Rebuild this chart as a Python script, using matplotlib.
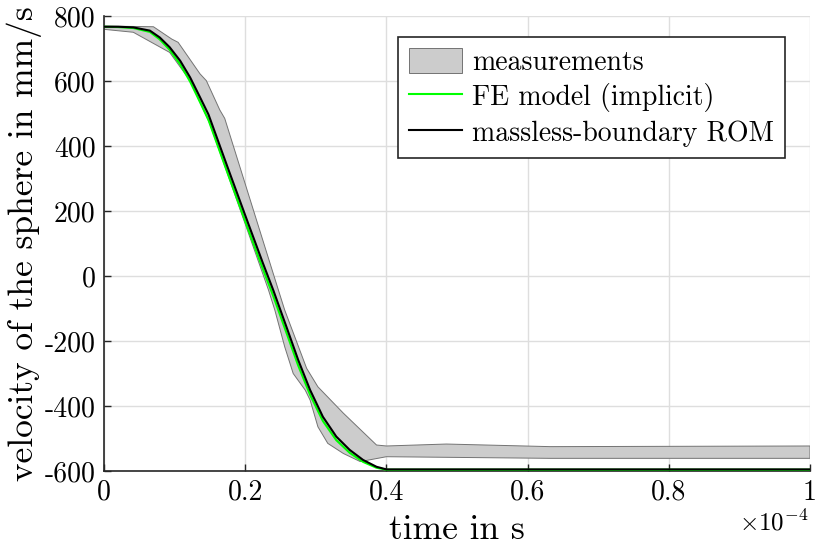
import numpy as np
import matplotlib.pyplot as plt

plt.rcParams['font.family'] = 'cmr10'
plt.rcParams['mathtext.fontset'] = 'cm'
plt.rcParams['axes.unicode_minus'] = False

# cas v jednotkach 1e-4 s, rychlost v mm/s
# mereni - horni a dolni obalka
t_meas_hi = [0, 0.070, 0.096, 0.105, 0.136, 0.145, 0.164, 0.171, 0.247, 0.256, 0.287, 0.303,
             0.339, 0.386, 0.40, 0.485, 0.632, 1.0]
v_meas_hi = [769, 767, 729, 719, 622, 601, 511, 485, -43, -105, -284, -341,
             -422, -520, -523, -517, -525, -523]
t_meas_lo = [0, 0.0415, 0.093, 0.122, 0.141, 0.150, 0.233, 0.242, 0.256, 0.268, 0.285, 0.292,
             0.303, 0.317, 0.339, 0.363, 0.40, 0.632, 1.0]
v_meas_lo = [759, 750, 688, 601, 511, 468, -43, -105, -218, -300, -351, -382,
             -464, -515, -546, -571, -556, -561, -561]

# FE model (implicitni)
t_fe = [0, 0.02, 0.0415, 0.065, 0.079, 0.093, 0.108, 0.122, 0.136, 0.148, 0.175, 0.202, 0.225,
        0.240, 0.259, 0.275, 0.292, 0.310, 0.329, 0.348, 0.367, 0.386, 0.40, 1.0]
v_fe = [767, 766, 763, 751, 728, 696, 651, 598, 535, 480, 317, 157, 22,
        -63, -178, -275, -366, -446, -505, -544, -572, -590, -596, -596]

# ROM s nehmotnou hranici
t_rom = [0, 0.02, 0.0415, 0.065, 0.079, 0.093, 0.108, 0.122, 0.136, 0.148, 0.175, 0.202, 0.225,
         0.240, 0.259, 0.275, 0.292, 0.310, 0.329, 0.348, 0.367, 0.386, 0.40, 1.0]
v_rom = [767, 767, 765, 755, 734, 704, 662, 611, 550, 497, 335, 175, 40,
         -45, -160, -258, -351, -433, -494, -535, -566, -587, -595, -595]

xticks = [0, 0.2, 0.4, 0.6, 0.8, 1.0]
xtick_labels = ['0', '0.2', '0.4', '0.6', '0.8', '1']
yticks = [-600, -400, -200, 0, 200, 400, 600, 800]
ytick_labels = ['-600', '-400', '-200', '0', '200', '400', '600', '800']

fig = plt.figure(figsize=(8.3, 5.54), dpi=100)
ax = fig.add_axes([0.1253, 0.1498, 0.8506, 0.8213])

band_t = t_meas_hi + t_meas_lo[::-1]
band_v = v_meas_hi + v_meas_lo[::-1]
ax.fill(band_t, band_v, facecolor=(0.8, 0.8, 0.8), edgecolor=(0.45, 0.45, 0.45),
        linewidth=0.7, label='measurements', zorder=2)
ax.plot(t_fe, v_fe, color=(0, 1, 0), linewidth=1.5, label='FE model (implicit)', zorder=3)
ax.plot(t_rom, v_rom, color='black', linewidth=1.5, label='massless-boundary ROM', zorder=4)

ax.set_xlim(0, 1)
ax.set_ylim(-600, 800)
ax.set_xticks(xticks)
ax.set_xticklabels(xtick_labels)
ax.set_yticks(yticks)
ax.set_yticklabels(ytick_labels)
ax.tick_params(direction='in', length=5, width=1, labelsize=20, colors=(0.15, 0.15, 0.15),
               labelcolor='black', pad=6)
for s in ['top', 'right']:
    ax.spines[s].set_visible(False)
for s in ['left', 'bottom']:
    ax.spines[s].set_color((0.15, 0.15, 0.15))
    ax.spines[s].set_linewidth(1.2)
ax.grid(True, color=(0.87, 0.87, 0.87), linewidth=1)
ax.set_axisbelow(True)

ax.set_xlabel('time in s', fontsize=25.5, labelpad=6)
ax.set_ylabel('velocity of the sphere in mm/s', fontsize=25.5, labelpad=2)
fig.text(808 / 830, 1 - 523 / 554, r'$\times 10^{-4}$', fontsize=18, ha='right', va='center')

leg = ax.legend(loc='upper right', bbox_to_anchor=(0.9646, 0.9538), borderaxespad=0,
                fontsize=20, fancybox=False, framealpha=1, edgecolor=(0.15, 0.15, 0.15),
                handlelength=1.9, handleheight=1.0, borderpad=0.4, labelspacing=0.25,
                handletextpad=0.36)
leg.get_frame().set_linewidth(1.2)

plt.savefig('out.png', dpi=100)
